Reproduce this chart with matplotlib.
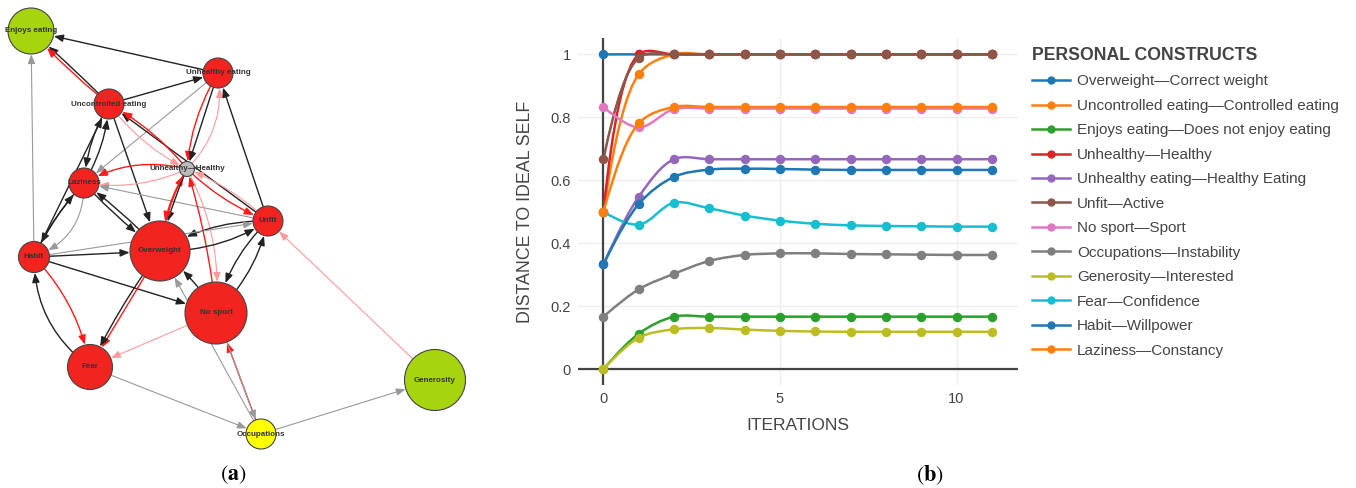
import numpy as np
import matplotlib
matplotlib.use('Agg')
import matplotlib.pyplot as plt
from matplotlib.path import Path
from matplotlib.patches import PathPatch, Circle, FancyArrowPatch
from matplotlib.lines import Line2D

plt.rcParams['font.family'] = ['Liberation Sans', 'DejaVu Sans']
plt.rcParams['mathtext.fontset'] = 'stix'

# ---------------- panel (a): network data ----------------
node_names = ["Enjoys eating", "Unhealthy eating", "Uncontrolled eating", "Unhealthy—Healthy",
              "Laziness", "Unfit", "Habit", "Overweight", "No sport", "Fear",
              "Occupations", "Generosity"]
node_x = [31, 218, 109, 187, 84, 268, 34, 160, 216, 90, 261, 435]
node_y = [31, 73, 104, 169, 183, 221, 257, 251, 313, 367, 434, 380]
node_r = [23, 15, 15, 7.5, 15, 15, 15.5, 30, 31, 22.5, 15, 30.5]
node_colors = ["#a6d40e", "#f2241f", "#f2241f", "#bbbbbb", "#f2241f", "#f2241f",
               "#f2241f", "#f2241f", "#f2241f", "#f2241f", "#ffff00", "#a6d40e"]

# (source, target, kind, curvature)
edges = [
    (1, 0, 'k', 0), (2, 0, 'k', 0.02), (2, 0, 'r', -0.04), (6, 0, 'g', 0),
    (2, 1, 'k', 0), (1, 4, 'g', 0), (3, 1, 'lr', 0.25), (1, 3, 'r', 0.12), (1, 3, 'k', 0),
    (5, 1, 'k', 0), (5, 2, 'k', 0), (3, 2, 'r', 0.1), (2, 3, 'lr', 0.12),
    (3, 5, 'r', 0.1), (5, 3, 'lr', 0.1), (2, 7, 'k', 0),
    (2, 4, 'k', 0.12), (4, 2, 'k', 0.12), (6, 2, 'k', 0), (6, 4, 'k', -0.08),
    (4, 6, 'k', 0.08), (4, 6, 'g', -0.35), (3, 4, 'r', 0.2), (3, 4, 'lr', -0.15),
    (5, 4, 'g', 0), (4, 7, 'k', 0.05), (7, 4, 'k', 0.05),
    (7, 3, 'r', -0.1), (3, 7, 'k', 0.05), (3, 7, 'r', 0.12),
    (8, 3, 'r', 0.05), (3, 8, 'lr', -0.15),
    (7, 5, 'k', 0.15), (5, 7, 'k', 0.15), (6, 5, 'g', 0), (6, 7, 'k', 0), (6, 8, 'k', 0),
    (8, 5, 'k', 0.15), (5, 8, 'k', 0.15), (8, 7, 'k', 0.1), (10, 7, 'g', 0),
    (6, 9, 'r', -0.15), (9, 6, 'k', -0.25), (7, 9, 'r', 0), (7, 9, 'k', 0.05),
    (8, 9, 'lr', 0), (9, 10, 'g', 0), (10, 8, 'r', 0), (8, 10, 'g', 0),
    (10, 11, 'g', 0), (11, 5, 'lr', 0),
]
edge_style = {'k': ('#222222', 1.0), 'g': ('#999999', 0.8),
              'r': ('#ff1a1a', 1.0), 'lr': ('#ff9a9a', 0.8)}

# ---------------- panel (b): line chart data ----------------
iterations = list(range(12))
overweight = [1, 1, 1, 1, 1, 1, 1, 1, 1, 1, 1, 1]
uncontrolled = [0.5, 0.937, 1, 1, 1, 1, 1, 1, 1, 1, 1, 1]
enjoys = [0, 0.113, 0.167, 0.167, 0.167, 0.167, 0.167, 0.167, 0.167, 0.167, 0.167, 0.167]
unhealthy = [0.5, 1, 1, 1, 1, 1, 1, 1, 1, 1, 1, 1]
unhealthy_eating = [0.333, 0.548, 0.667, 0.667, 0.667, 0.667, 0.667, 0.667, 0.667, 0.667, 0.667, 0.667]
unfit = [0.667, 0.989, 1, 1, 1, 1, 1, 1, 1, 1, 1, 1]
no_sport = [0.833, 0.768, 0.826, 0.828, 0.828, 0.828, 0.828, 0.828, 0.828, 0.828, 0.828, 0.828]
occupations = [0.167, 0.254, 0.303, 0.344, 0.363, 0.368, 0.368, 0.366, 0.365, 0.364, 0.363, 0.363]
generosity = [0, 0.10, 0.127, 0.131, 0.126, 0.122, 0.12, 0.119, 0.119, 0.119, 0.119, 0.119]
fear = [0.5, 0.459, 0.529, 0.511, 0.488, 0.472, 0.462, 0.457, 0.455, 0.454, 0.453, 0.453]
habit = [0.333, 0.525, 0.611, 0.634, 0.637, 0.636, 0.634, 0.633, 0.633, 0.633, 0.633, 0.633]
laziness = [0.5, 0.781, 0.833, 0.833, 0.833, 0.833, 0.833, 0.833, 0.833, 0.833, 0.833, 0.833]

construct_names = ["Overweight—Correct weight", "Uncontrolled eating—Controlled eating",
                   "Enjoys eating—Does not enjoy eating", "Unhealthy—Healthy",
                   "Unhealthy eating—Healthy Eating", "Unfit—Active", "No sport—Sport",
                   "Occupations—Instability", "Generosity—Interested", "Fear—Confidence",
                   "Habit—Willpower", "Laziness—Constancy"]
series_values = [overweight, uncontrolled, enjoys, unhealthy, unhealthy_eating, unfit,
                 no_sport, occupations, generosity, fear, habit, laziness]
series_colors = ["#1f77b4", "#ff7f0e", "#2ca02c", "#d62728", "#9467bd", "#8c564b",
                 "#e377c2", "#7f7f7f", "#bcbd22", "#17becf", "#1f77b4", "#ff7f0e"]
y_ticks = [0, 0.2, 0.4, 0.6, 0.8, 1]
y_tick_labels = ["0", "0.2", "0.4", "0.6", "0.8", "1"]
x_ticks = [0, 5, 10]

W, H = 1356, 488
fig = plt.figure(figsize=(W / 100, H / 100), dpi=100)

# ---------------- draw panel (a) ----------------
axa = fig.add_axes([0, 0, 480 / W, 1])
axa.set_xlim(0, 480)
axa.set_ylim(H, 0)
axa.axis('off')

pt_per_px = 72 / 100
for s, t, kind, rad in edges:
    col, lw = edge_style[kind]
    arr = FancyArrowPatch((node_x[s], node_y[s]), (node_x[t], node_y[t]),
                          connectionstyle=f"arc3,rad={rad}",
                          arrowstyle="-|>,head_length=0.55,head_width=0.22",
                          mutation_scale=10, color=col, lw=lw,
                          shrinkA=node_r[s] * pt_per_px, shrinkB=node_r[t] * pt_per_px + 0.3,
                          zorder=1)
    axa.add_patch(arr)

for i, name in enumerate(node_names):
    axa.add_patch(Circle((node_x[i], node_y[i]), node_r[i], facecolor=node_colors[i],
                         edgecolor='#444444', lw=0.8, zorder=3))
    axa.text(node_x[i], node_y[i], name, ha='center', va='center', fontsize=5.8,
             fontweight='bold', color='#333333', zorder=4,
             family=['Liberation Sans', 'DejaVu Sans'])

fig.text(233 / W, 1 - 475 / H, r'($\mathbf{a}$)', ha='center', va='center', fontsize=16,
         family='STIXGeneral')
fig.text(930 / W, 1 - 475 / H, r'($\mathbf{b}$)', ha='center', va='center', fontsize=16,
         family='STIXGeneral')

# ---------------- draw panel (b) ----------------
axb = fig.add_axes([578 / W, 1 - 385 / H, 440 / W, 347 / H])
axb.set_xlim(-0.72, 11.74)
axb.set_ylim(-0.05, 1.052)
for sp in axb.spines.values():
    sp.set_visible(False)
axb.set_xticks(x_ticks)
axb.set_yticks(y_ticks)
axb.set_yticklabels(y_tick_labels)
axb.tick_params(length=0, labelsize=10.5, labelcolor='#444444', pad=5)
axb.grid(True, color='#eeeeee', lw=1)
axb.set_axisbelow(True)
axb.axhline(0, color='#444444', lw=1.6, zorder=1.5)
axb.axvline(0, color='#444444', lw=1.6, zorder=1.5)
axb.set_xlabel('ITERATIONS', fontsize=12.5, color='#444444', labelpad=9)
axb.set_ylabel('DISTANCE TO IDEAL SELF', fontsize=12.8, color='#444444', labelpad=12)

sx, sy = 35.33, 315.0


def spline_path(xs, ys, smooth=1.0):
    pts = np.column_stack([np.asarray(xs, float) * sx, np.asarray(ys, float) * sy])
    n = len(pts)
    tans = []
    for i in range(1, n - 1):
        p0, p1, p2 = pts[i - 1], pts[i], pts[i + 1]
        d1 = p0 - p1
        d2 = p2 - p1
        d1a = (d1 @ d1) ** 0.25
        d2a = (d2 @ d2) ** 0.25
        num = (d2a * d2a * d1 - d1a * d1a * d2) * smooth
        den1 = 3 * d2a * (d1a + d2a)
        den2 = 3 * d1a * (d1a + d2a)
        a = p1 + (num / den1 if den1 else 0)
        b = p1 - (num / den2 if den2 else 0)
        tans.append((a, b))
    verts = [pts[0], tans[0][0], pts[1]]
    codes = [Path.MOVETO, Path.CURVE3, Path.CURVE3]
    for i in range(2, n - 1):
        verts += [tans[i - 2][1], tans[i - 1][0], pts[i]]
        codes += [Path.CURVE4] * 3
    verts += [tans[n - 3][1], pts[n - 1]]
    codes += [Path.CURVE3] * 2
    verts = np.array(verts) / np.array([sx, sy])
    return Path(verts, codes)


handles = []
for k, (vals, col) in enumerate(zip(series_values, series_colors)):
    z = 3 + k * 0.01
    axb.add_patch(PathPatch(spline_path(iterations, vals), facecolor='none', edgecolor=col,
                            lw=1.8, zorder=z, capstyle='round', joinstyle='round'))
    axb.plot(iterations, vals, linestyle='none', marker='o', markersize=5.8, color=col,
             zorder=z + 0.001)
    handles.append(Line2D([], [], color=col, lw=1.8, marker='o', markersize=5))

leg = fig.legend(handles, construct_names, loc='upper left',
                 bbox_to_anchor=(1032 / W, 1 - 47 / H), frameon=False,
                 title='PERSONAL CONSTRUCTS',
                 title_fontproperties={'weight': 'bold', 'size': 12.7},
                 alignment='left', fontsize=11, handlelength=2.5, handletextpad=0.45,
                 labelspacing=0.685, borderaxespad=0, borderpad=0, labelcolor='#444444')
leg.get_title().set_color('#444444')

fig.savefig('out.png', dpi=100)
